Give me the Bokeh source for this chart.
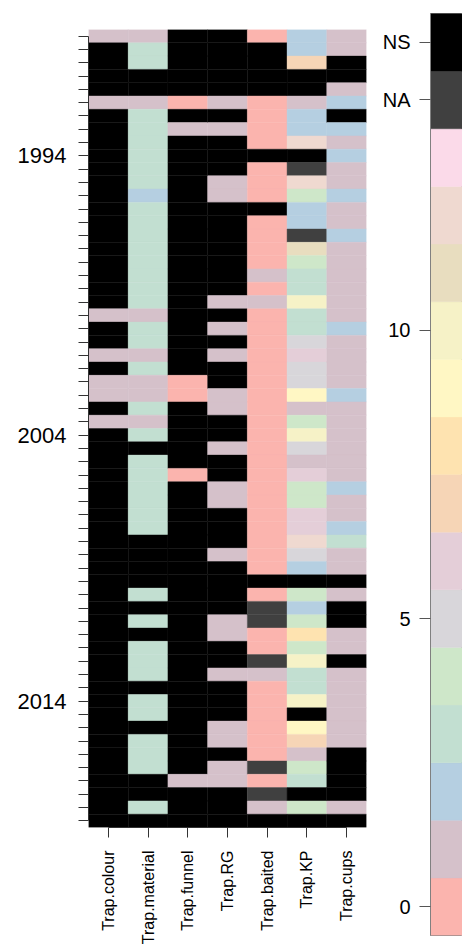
from math import pi
from bokeh.plotting import figure
from bokeh.models import ColumnDataSource, FixedTicker, Range1d
from bokeh.layouts import row
from bokeh.transform import factor_cmap
from bokeh.embed import file_html
from bokeh.resources import INLINE

# ---------------- data ----------------
trap_vars = ["Trap.colour", "Trap.material", "Trap.funnel", "Trap.RG",
             "Trap.baited", "Trap.KP", "Trap.cups"]

# one value per row (row 0 at top); integers are class codes, "NA" / "NS" special
trap_colour = [1, "NS", "NS", "NS", "NS", 1, "NS", "NS", "NS", "NS",
               "NS", "NS", "NS", "NS", "NS", "NS", "NS", "NS", "NS", "NS",
               "NS", 1, "NS", "NS", 1, "NS", 1, 1, "NS", 1,
               "NS", "NS", "NS", "NS", "NS", "NS", "NS", "NS", "NS", "NS",
               "NS", "NS", "NS", "NS", "NS", "NS", "NS", "NS", "NS", "NS",
               "NS", "NS", "NS", "NS", "NS", "NS", "NS", "NS", "NS", "NS"]
trap_material = [1, 3, 3, "NS", "NS", 1, 3, 3, 3, 3,
                 3, 3, 2, 3, 3, 3, 3, 3, 3, 3,
                 3, 1, 3, 3, 1, 3, 1, 1, 3, 1,
                 3, "NS", 3, 3, 3, 3, 3, 3, "NS", "NS",
                 "NS", "NS", 3, "NS", 3, "NS", 3, 3, 3, "NS",
                 3, 3, "NS", 3, 3, 3, "NS", "NS", 3, "NS"]
trap_funnel = ["NS", "NS", "NS", "NS", "NS", 0, "NS", 1, "NS", "NS",
               "NS", "NS", "NS", "NS", "NS", "NS", "NS", "NS", "NS", "NS",
               "NS", "NS", "NS", "NS", "NS", "NS", 0, 0, "NS", "NS",
               "NS", "NS", "NS", 0, "NS", "NS", "NS", "NS", "NS", "NS",
               "NS", "NS", "NS", "NS", "NS", "NS", "NS", "NS", "NS", "NS",
               "NS", "NS", "NS", "NS", "NS", "NS", 1, "NS", "NS", "NS"]
trap_rg = ["NS", "NS", "NS", "NS", "NS", 1, "NS", 1, "NS", "NS",
           "NS", 1, 1, "NS", "NS", "NS", "NS", "NS", "NS", "NS",
           1, "NS", 1, "NS", 1, "NS", "NS", 1, 1, "NS",
           "NS", 1, "NS", "NS", 1, 1, "NS", "NS", "NS", 1,
           "NS", "NS", "NS", "NS", 1, 1, "NS", "NS", 1, "NS",
           "NS", "NS", 1, 1, "NS", 1, 1, "NS", "NS", "NS"]
trap_baited = [0, "NS", "NS", "NS", "NS", 0, 0, 0, 0, "NS",
               0, 0, 0, "NS", 0, 0, 0, 0, 1, 0,
               1, 0, 0, 0, 0, 0, 0, 0, 0, 0,
               0, 0, 0, 0, 0, 0, 0, 0, 0, 0,
               0, "NS", 0, "NA", "NA", 0, 0, "NA", 1, 0,
               0, 0, 0, 0, 0, "NA", 0, "NA", 1, "NS"]
trap_kp = [2, 2, 7, "NS", "NS", 1, 2, 2, 12, "NS",
           "NA", 12, 4, 2, 2, "NA", 11, 4, 3, 3,
           10, 3, 3, 5, 6, 5, 5, 9, 1, 4,
           10, 5, 1, 6, 4, 4, 6, 6, 12, 5,
           2, "NS", 4, 2, 4, 8, 4, 10, 3, 3,
           10, "NS", 9, 7, 1, 4, 3, "NS", 4, "NS"]
trap_cups = [1, 1, "NS", "NS", 1, 2, "NS", 2, 1, 2,
             1, 1, 2, 1, 1, 2, 1, 1, 1, 1,
             1, 1, 2, 1, 1, 1, 1, 2, 1, 1,
             1, 1, 1, 1, 2, 1, 1, 2, 3, 1,
             1, "NS", 1, "NS", "NS", 1, 1, "NS", 1, 1,
             1, 1, 1, 1, "NS", "NS", "NS", "NS", 1, "NS"]

columns_data = [trap_colour, trap_material, trap_funnel, trap_rg,
                trap_baited, trap_kp, trap_cups]

# y-axis labels (row index -> year label)
label_rows = [9, 30, 50]
label_years = ["1994", "2004", "2014"]

# colour key levels
levels = [str(i) for i in range(14)] + ["NA", "NS"]
colorbar_ticks = [0, 5, 10, 14, 15]
colorbar_labels = ["0", "5", "10", "NA", "NS"]

palette = ["#FBB4AE", "#D5C1CA", "#B5CFE1", "#C2DFD1", "#CEE7C9", "#D8D6DA",
           "#E4CED8", "#F6D5B6", "#FEE3B0", "#FFF7C4", "#F6F2C7", "#E8DDBF",
           "#EFD9D0", "#FBDAE9", "#404040", "#000000"]

FONT = "Liberation Sans"
n_rows = len(trap_colour)

# ---------------- heatmap ----------------
xs, ys, vals = [], [], []
for j, col in enumerate(columns_data):
    for i, v in enumerate(col):
        xs.append(j)
        ys.append(i)
        vals.append(str(v))
src = ColumnDataSource(dict(x=xs, y=ys, v=vals))

p = figure(width=375, height=947, output_backend="svg", toolbar_location=None,
           x_range=Range1d(-0.5, len(trap_vars) - 0.5),
           y_range=Range1d(n_rows - 0.5, -0.5),
           min_border_left=88, min_border_right=9, min_border_top=29,
           min_border_bottom=119)
p.frame_align = False
p.outline_line_color = None
p.grid.visible = False
p.rect(x="x", y="y", width=1, height=1, source=src,
       fill_color=factor_cmap("v", palette, levels),
       line_color=factor_cmap("v", palette, levels), line_width=0.4)

ya = p.yaxis[0]
ya.ticker = FixedTicker(ticks=list(range(n_rows)))
ov = {i: "" for i in range(n_rows)}
for r, lab in zip(label_rows, label_years):
    ov[r] = lab
ya.major_label_overrides = ov
ya.bounds = (0, n_rows - 1)
ya.major_tick_out = 10
ya.major_tick_in = 0
ya.minor_tick_line_color = None
ya.major_label_standoff = 12
ya.major_label_text_font = FONT
ya.major_label_text_font_size = "22px"
ya.major_label_text_color = "black"
ya.axis_line_color = "#333333"
ya.major_tick_line_color = "#333333"

xa = p.xaxis[0]
xa.ticker = FixedTicker(ticks=list(range(len(trap_vars))))
xa.major_label_overrides = {j: name for j, name in enumerate(trap_vars)}
xa.major_label_orientation = pi / 2
xa.bounds = (0, len(trap_vars) - 1)
xa.major_tick_out = 10
xa.major_tick_in = 0
xa.minor_tick_line_color = None
xa.major_label_standoff = 13
xa.major_label_text_font = FONT
xa.major_label_text_font_size = "16px"
xa.major_label_text_color = "black"
xa.axis_line_color = "#333333"
xa.major_tick_line_color = "#333333"

# ---------------- colour key ----------------
csrc = ColumnDataSource(dict(y=list(range(len(levels))), v=levels))
c = figure(width=87, height=947, output_backend="svg", toolbar_location=None,
           x_range=Range1d(0, 1), y_range=Range1d(-0.5, len(levels) - 0.5),
           min_border_left=55, min_border_right=0, min_border_top=13,
           min_border_bottom=12, x_axis_location=None)
c.frame_align = False
c.grid.visible = False
c.outline_line_color = "#808080"
c.rect(x=0.5, y="y", width=1, height=1, source=csrc,
       fill_color=factor_cmap("v", palette, levels),
       line_color=factor_cmap("v", palette, levels), line_width=0.4)
ca = c.yaxis[0]
ca.ticker = FixedTicker(ticks=colorbar_ticks)
ca.major_label_overrides = {t: l for t, l in zip(colorbar_ticks, colorbar_labels)}
ca.major_tick_out = 11
ca.major_tick_in = 0
ca.minor_tick_line_color = None
ca.major_label_standoff = 9
ca.major_label_text_font = FONT
ca.major_label_text_font_size = "20px"
ca.major_label_text_color = "black"
ca.axis_line_color = "#808080"
ca.major_tick_line_color = "#555555"

layout = row(p, c)
open("out.html", "w").write(file_html(layout, INLINE))
